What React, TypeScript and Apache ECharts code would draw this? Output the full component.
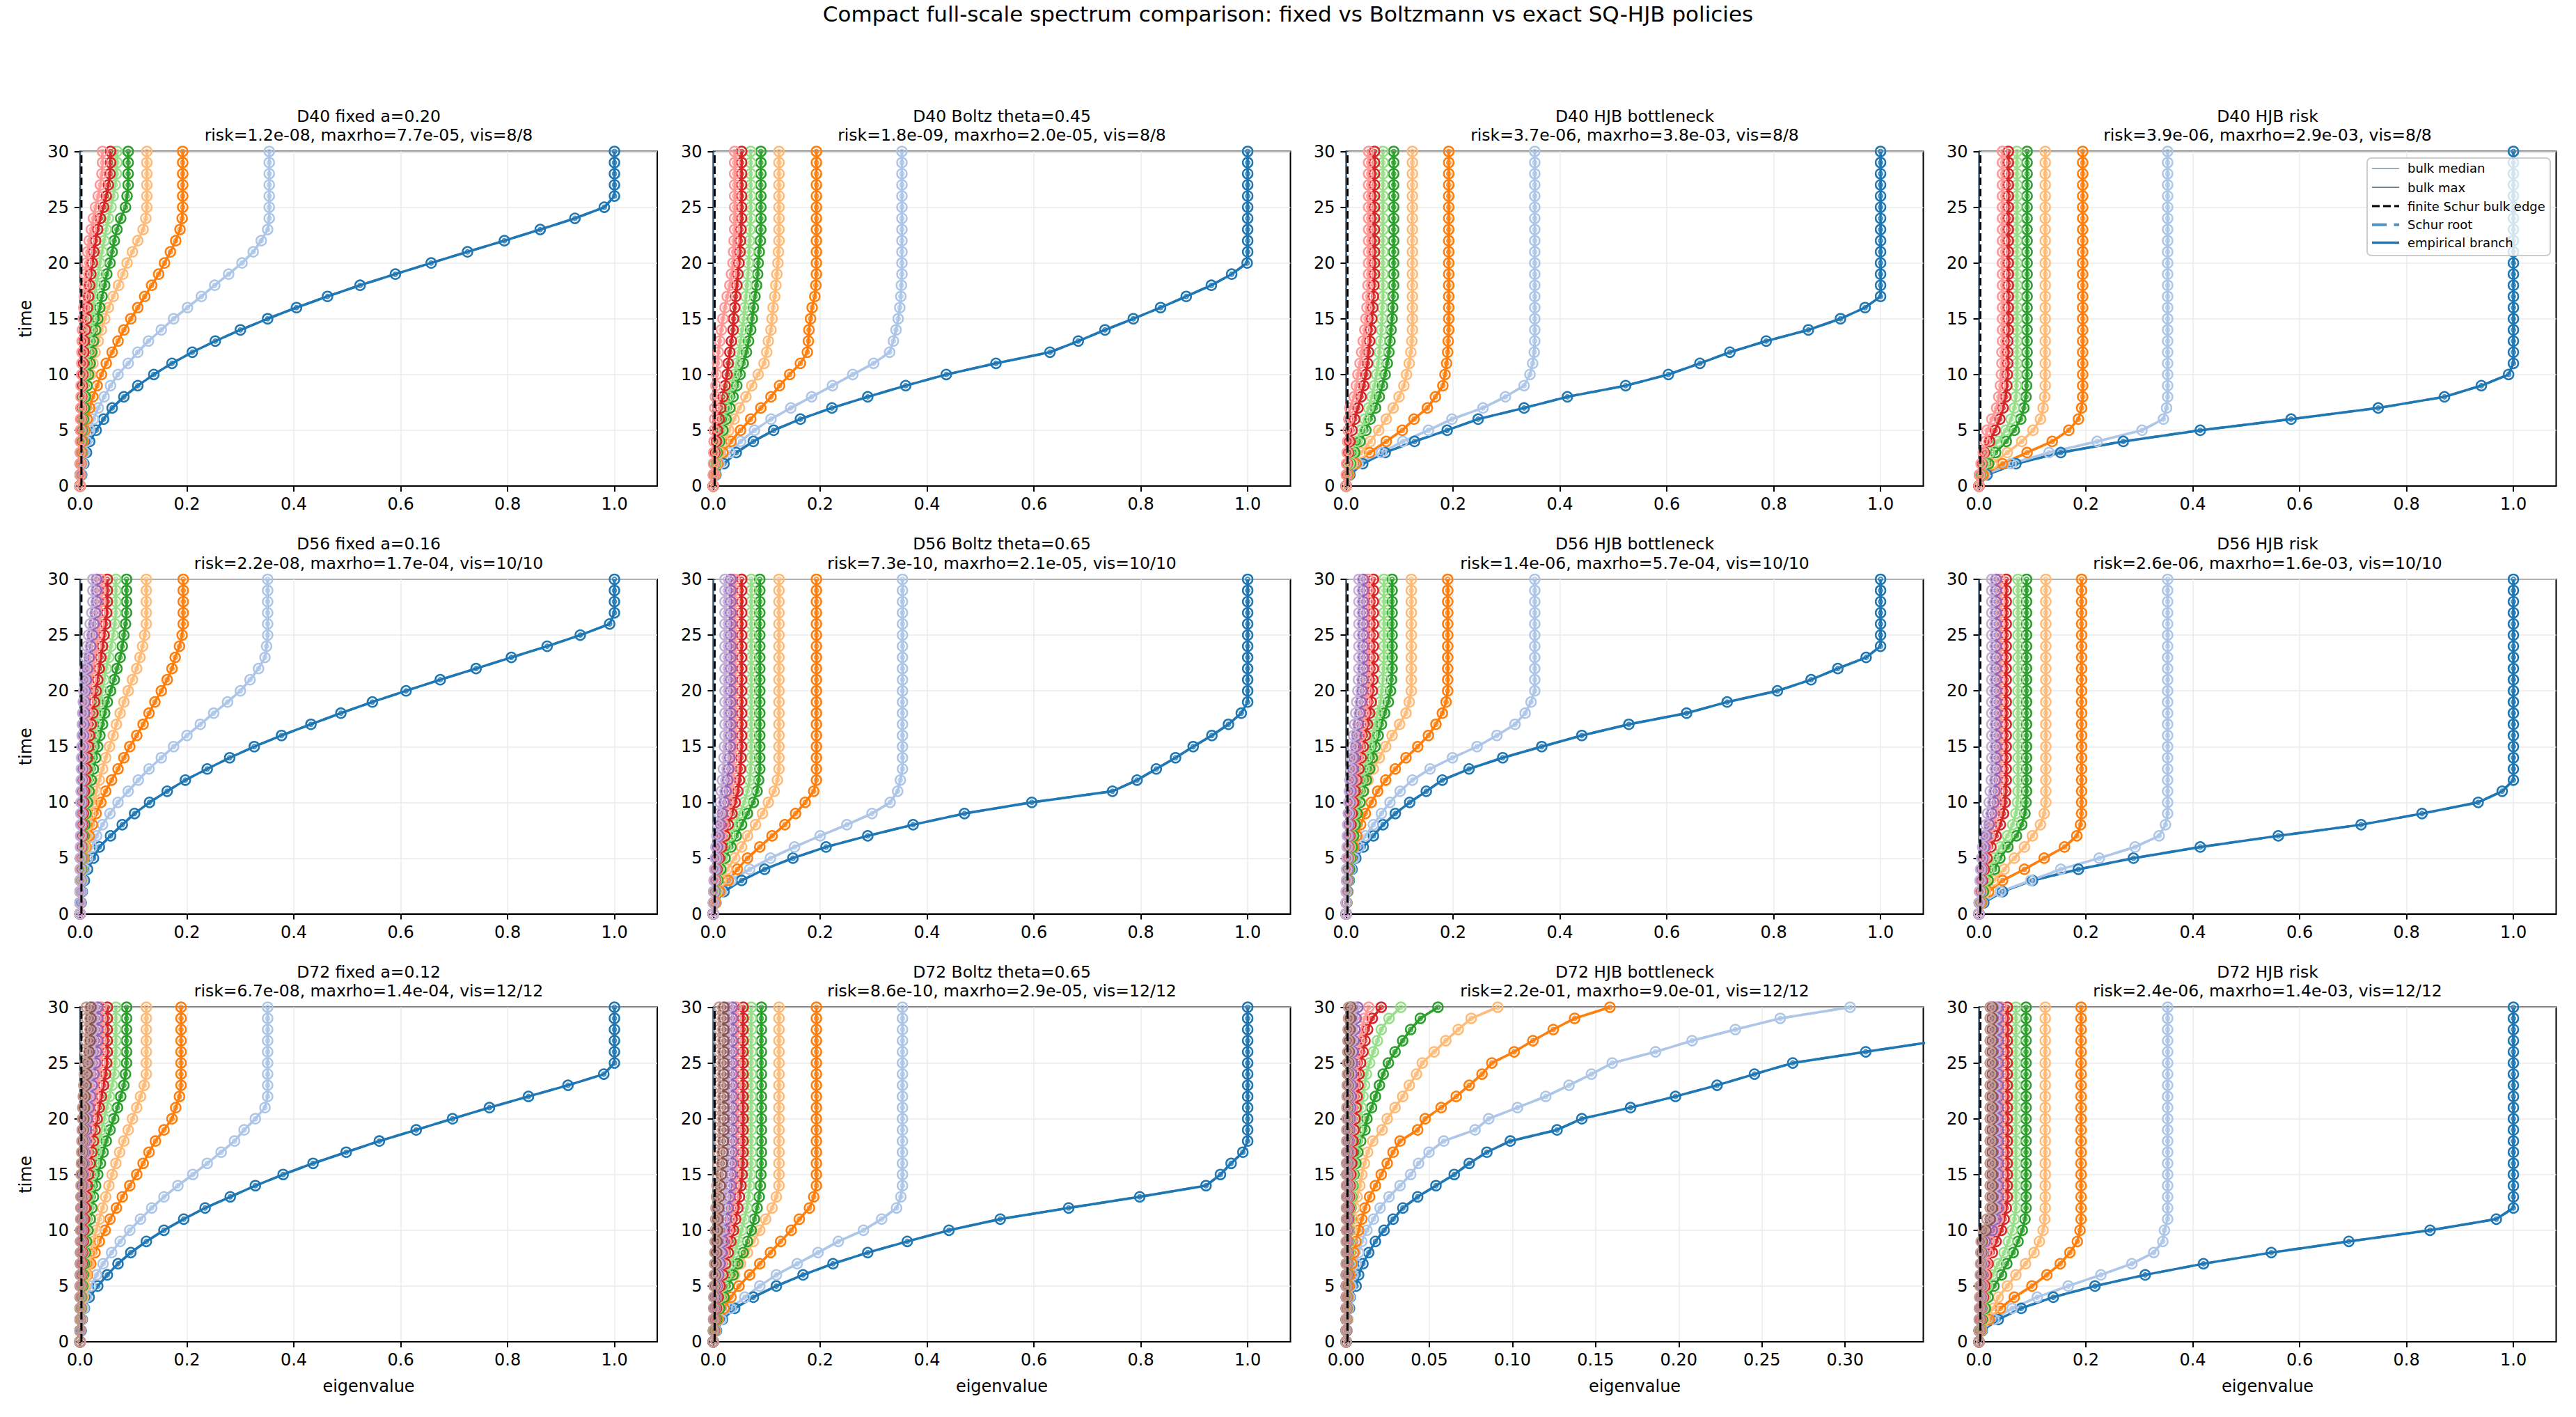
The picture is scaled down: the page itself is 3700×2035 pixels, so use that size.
import React, { useEffect, useRef } from "react";
import * as echarts from "echarts";

const FONT = "'DejaVu Sans', sans-serif";
const TIMES = [0,1,2,3,4,5,6,7,8,9,10, 11,12,13,14,15,16,17,18,19,20, 21,22,23,24,25,26,27,28,29,30];
const COLORS = ["#1f77b4","#aec7e8","#ff7f0e","#ffbb78","#2ca02c","#98df8a","#d62728","#ff9896","#9467bd","#c5b0d5","#8c564b","#c49c94"];
const MAIN_TITLE = "Compact full-scale spectrum comparison: fixed vs Boltzmann vs exact SQ-HJB policies";
const TITLES = ["D40 fixed a=0.20","D40 Boltz theta=0.45","D40 HJB bottleneck","D40 HJB risk","D56 fixed a=0.16","D56 Boltz theta=0.65","D56 HJB bottleneck","D56 HJB risk","D72 fixed a=0.12","D72 Boltz theta=0.65","D72 HJB bottleneck","D72 HJB risk"];
const SUBTITLES = ["risk=1.2e-08, maxrho=7.7e-05, vis=8/8","risk=1.8e-09, maxrho=2.0e-05, vis=8/8","risk=3.7e-06, maxrho=3.8e-03, vis=8/8","risk=3.9e-06, maxrho=2.9e-03, vis=8/8","risk=2.2e-08, maxrho=1.7e-04, vis=10/10","risk=7.3e-10, maxrho=2.1e-05, vis=10/10","risk=1.4e-06, maxrho=5.7e-04, vis=10/10","risk=2.6e-06, maxrho=1.6e-03, vis=10/10","risk=6.7e-08, maxrho=1.4e-04, vis=12/12","risk=8.6e-10, maxrho=2.9e-05, vis=12/12","risk=2.2e-01, maxrho=9.0e-01, vis=12/12","risk=2.4e-06, maxrho=1.4e-03, vis=12/12"];
const X_MAX = [1.08,1.08,1.08,1.08, 1.08,1.08,1.08,1.08, 1.08,1.08,0.347,1.08];
const X_TICKS_WIDE = [0,0.2,0.4,0.6,0.8,1.0];
const X_TICKS_NARROW = [0,0.05,0.1,0.15,0.2,0.25,0.3];
const Y_TICKS = [0,5,10,15,20,25,30];
const BULK_MEDIAN = [.0003,.0003,.0003,.0003, .0003,.0003,.0003,.0003, .0003,.0003,.0002,.0003];
const BULK_MAX = [.0008,.0008,.0008,.0008, .0008,.0008,.0008,.0008, .0008,.0008,.0004,.0008];
const BULK_EDGE = [.0025,.0025,.0025,.0025, .0025,.0025,.0025,.0025, .0025,.0025,.0008,.0025];
const LEGEND_LABELS = ["bulk median","bulk max","finite Schur bulk edge","Schur root","empirical branch"];

const D40_FIXED = [
[0,.003,.007,.012,.018,.03,.044,.06,.082,.108,.138,  .172,.21,.253,.3,.351,.405,.463,.524,.59,.657,  .725,.794,.861,.926,.981,1,1,1,1,1],
[0,.002,.005,.008,.012,.018,.025,.034,.045,.057,.071,  .09,.108,.128,.152,.175,.201,.227,.252,.278,.303,  .324,.339,.351,.354,.354,.354,.354,.354,.354,.354],
[0,.001,.002,.004,.006,.009,.013,.018,.024,.032,.04,  .049,.06,.071,.082,.095,.108,.121,.134,.147,.158,  .169,.179,.187,.191,.192,.192,.192,.192,.192,.192],
[0,.0005,.001,.002,.003,.004,.006,.008,.011,.014,.02,  .024,.028,.034,.04,.046,.053,.062,.072,.08,.088,  .098,.108,.118,.123,.125,.125,.125,.125,.125,.125],
[0,.0005,.001,.002,.003,.004,.006,.008,.01,.013,.016,  .019,.022,.025,.029,.033,.037,.041,.046,.05,.056,  .06,.064,.069,.076,.085,.088,.09,.09,.09,.09],
[0,.0004,.0008,.0012,.0018,.0025,.0035,.0045,.006,.007,.009,  .011,.013,.016,.019,.022,.024,.027,.03,.034,.037,  .041,.045,.049,.053,.058,.062,.066,.068,.069,.069],
[0,.0003,.0006,.001,.0013,.0016,.002,.0025,.003,.004,.005,  .006,.007,.008,.01,.012,.014,.016,.018,.02,.023,  .026,.029,.033,.038,.044,.049,.053,.056,.057,.057],
[0,.0002,.0004,.0006,.0008,.001,.0012,.0015,.0018,.002,.003,  .0033,.0036,.004,.0045,.006,.007,.008,.009,.01,.012,  .014,.017,.021,.025,.029,.034,.038,.041,.042,.042],
];
const D40_BOLTZ = [
[0,.005,.02,.043,.075,.113,.163,.222,.289,.36,.436,  .529,.63,.683,.733,.786,.837,.885,.932,.97,.999,  1,1,1,1,1,1,1,1,1,1],
[0,.004,.012,.031,.051,.077,.108,.145,.184,.223,.261,  .3,.33,.337,.342,.346,.349,.351,.352,.353,.353,  .353,.353,.353,.353,.353,.353,.353,.353,.353,.353],
[0,.003,.008,.018,.033,.051,.07,.089,.108,.124,.143,  .163,.176,.178,.179,.182,.185,.19,.192,.193,.193,  .193,.193,.193,.193,.193,.193,.193,.193,.193,.193],
[0,.002,.006,.012,.02,.029,.039,.049,.061,.072,.084,  .095,.1,.103,.108,.11,.112,.115,.117,.119,.121,  .122,.123,.123,.123,.123,.123,.123,.123,.123,.123],
[0,.001,.004,.007,.012,.018,.024,.031,.037,.044,.05,  .056,.062,.066,.07,.073,.075,.078,.081,.083,.084,  .086,.088,.089,.089,.089,.089,.089,.089,.089,.089],
[0,.001,.003,.005,.009,.013,.018,.023,.028,.034,.04,  .044,.048,.051,.054,.057,.059,.061,.063,.065,.066,  .067,.068,.069,.07,.07,.07,.07,.07,.07,.07],
[0,.0005,.001,.003,.006,.008,.011,.014,.018,.022,.026,  .028,.031,.034,.037,.038,.04,.042,.044,.046,.048,  .05,.051,.052,.053,.053,.053,.053,.053,.053,.053],
[0,.0003,.0006,.001,.0015,.002,.0025,.003,.004,.005,.006,  .008,.0095,.012,.015,.018,.022,.026,.031,.034,.037,  .038,.039,.04,.04,.04,.04,.04,.04,.04,.04],
];
const D40_HJB_BOTTLENECK = [
[0,.007,.031,.073,.128,.189,.247,.333,.414,.523,.603,  .662,.718,.786,.865,.925,.971,1,1,1,1,  1,1,1,1,1,1,1,1,1,1],
[0,.005,.022,.066,.106,.154,.198,.256,.298,.333,.344,  .349,.352,.353,.353,.353,.353,.353,.353,.353,.353,  .353,.353,.353,.353,.353,.353,.353,.353,.353,.353],
[0,.005,.018,.044,.075,.105,.127,.152,.167,.181,.185,  .188,.19,.191,.192,.192,.192,.192,.192,.192,.192,  .192,.192,.192,.192,.192,.192,.192,.192,.192,.192],
[0,.003,.012,.028,.045,.061,.075,.088,.099,.108,.113,  .118,.121,.123,.124,.124,.124,.124,.124,.124,.124,  .124,.124,.124,.124,.124,.124,.124,.124,.124,.124],
[0,.002,.008,.016,.026,.037,.045,.055,.062,.068,.073,  .077,.08,.082,.084,.086,.087,.088,.089,.089,.089,  .089,.089,.089,.089,.089,.089,.089,.089,.089,.089],
[0,.0015,.006,.012,.02,.028,.035,.042,.048,.053,.057,  .06,.062,.064,.066,.067,.068,.069,.069,.069,.069,  .069,.069,.069,.069,.069,.069,.069,.069,.069,.069],
[0,.001,.002,.004,.007,.011,.016,.022,.028,.033,.037,  .04,.042,.044,.046,.048,.05,.051,.052,.053,.053,  .053,.053,.053,.053,.053,.053,.053,.053,.053,.053],
[0,.0005,.001,.002,.003,.004,.005,.007,.015,.019,.022,  .026,.029,.032,.035,.037,.039,.04,.041,.042,.042,  .042,.042,.042,.042,.042,.042,.042,.042,.042,.042],
];
const D40_HJB_RISK = [
[0,.015,.069,.153,.27,.414,.584,.747,.871,.94,.991,  1,1,1,1,1,1,1,1,1,1,  1,1,1,1,1,1,1,1,1,1],
[0,.01,.06,.131,.221,.305,.345,.351,.353,.353,.353,  .353,.353,.353,.353,.353,.353,.353,.353,.353,.353,  .353,.353,.353,.353,.353,.353,.353,.353,.353,.353],
[0,.008,.044,.09,.137,.168,.186,.192,.194,.194,.194,  .194,.194,.194,.194,.194,.194,.194,.194,.194,.194,  .194,.194,.194,.194,.194,.194,.194,.194,.194,.194],
[0,.004,.025,.053,.08,.101,.115,.12,.123,.124,.124,  .124,.124,.124,.124,.124,.124,.124,.124,.124,.124,  .124,.124,.124,.124,.124,.124,.124,.124,.124,.124],
[0,.003,.018,.031,.051,.066,.078,.084,.088,.089,.09,  .09,.09,.09,.09,.09,.09,.09,.09,.09,.09,  .09,.09,.09,.09,.09,.09,.09,.09,.09,.09],
[0,.002,.01,.02,.035,.05,.06,.066,.069,.07,.071,  .071,.071,.071,.071,.071,.071,.071,.071,.071,.071,  .071,.071,.071,.071,.071,.071,.071,.071,.071,.071],
[0,.001,.005,.01,.02,.03,.039,.045,.05,.052,.053,  .054,.054,.054,.055,.055,.055,.055,.055,.055,.055,  .055,.055,.055,.055,.055,.055,.055,.055,.055,.055],
[0,.001,.004,.008,.012,.015,.024,.033,.037,.04,.042,  .043,.043,.044,.044,.044,.044,.044,.044,.044,.044,  .044,.044,.044,.044,.044,.044,.044,.044,.044,.044],
];
const D56_FIXED = [
[0,.002,.004,.008,.014,.025,.036,.057,.079,.102,.13,  .163,.197,.238,.28,.326,.377,.432,.488,.547,.61,  .674,.741,.807,.874,.936,.991,1,1,1,1],
[0,.001,.003,.005,.009,.014,.022,.031,.042,.056,.071,  .09,.109,.129,.152,.175,.2,.225,.25,.276,.3,  .318,.334,.346,.349,.351,.351,.351,.351,.351,.351],
[0,.0005,.001,.002,.004,.007,.011,.017,.023,.03,.039,  .048,.059,.071,.082,.093,.106,.118,.129,.14,.152,  .163,.172,.178,.186,.191,.193,.193,.193,.193,.193],
[0,.0005,.001,.002,.004,.005,.009,.012,.016,.02,.025,  .03,.036,.042,.048,.055,.062,.068,.075,.082,.09,  .098,.106,.112,.117,.121,.124,.124,.124,.124,.124],
[0,.0003,.0008,.0015,.003,.004,.005,.007,.009,.011,.014,  .017,.021,.025,.029,.033,.037,.042,.046,.051,.057,  .064,.069,.075,.079,.082,.085,.087,.087,.087,.087],
[0,.0003,.0006,.001,.002,.003,.004,.005,.006,.008,.01,  .012,.014,.017,.02,.023,.026,.029,.033,.037,.041,  .045,.049,.054,.058,.062,.065,.067,.067,.067,.067],
[0,.0002,.0005,.001,.0015,.002,.003,.004,.005,.006,.007,  .008,.01,.012,.014,.016,.018,.021,.024,.027,.03,  .033,.036,.039,.042,.045,.048,.05,.051,.051,.051],
[0,.0002,.0004,.0007,.001,.0015,.002,.0025,.003,.0035,.004,  .005,.006,.007,.008,.009,.01,.012,.014,.016,.018,  .021,.024,.027,.03,.033,.036,.038,.039,.039,.039],
[0,.0001,.0003,.0005,.0008,.001,.0013,.0016,.002,.0025,.003,  .0035,.004,.0045,.005,.0055,.006,.007,.008,.009,.01,  .012,.014,.017,.02,.023,.026,.029,.031,.031,.031],
[0,.0001,.0002,.0003,.0005,.0007,.0009,.0011,.0013,.0015,.0018,  .002,.0023,.0026,.003,.0035,.004,.0045,.005,.006,.007,  .008,.009,.011,.013,.016,.019,.022,.024,.024,.024],
];
const D56_BOLTZ = [
[0,.005,.02,.053,.096,.149,.211,.289,.374,.47,.596,  .747,.793,.829,.865,.898,.933,.964,.988,1,1,  1,1,1,1,1,1,1,1,1,1],
[0,.005,.015,.033,.068,.107,.152,.2,.25,.297,.331,  .345,.35,.354,.354,.354,.354,.354,.354,.354,.354,  .354,.354,.354,.354,.354,.354,.354,.354,.354,.354],
[0,.004,.012,.028,.045,.064,.087,.11,.134,.154,.172,  .188,.193,.193,.193,.193,.193,.193,.193,.193,.193,  .193,.193,.193,.193,.193,.193,.193,.193,.193,.193],
[0,.002,.007,.015,.026,.04,.053,.064,.079,.092,.103,  .114,.12,.123,.123,.123,.123,.123,.123,.123,.123,  .123,.123,.123,.123,.123,.123,.123,.123,.123,.123],
[0,.001,.004,.008,.014,.022,.033,.043,.053,.064,.075,  .082,.085,.087,.087,.087,.087,.087,.087,.087,.087,  .087,.087,.087,.087,.087,.087,.087,.087,.087,.087],
[0,.001,.003,.006,.01,.016,.024,.032,.04,.049,.058,  .064,.068,.07,.071,.071,.071,.071,.071,.071,.071,  .071,.071,.071,.071,.071,.071,.071,.071,.071,.071],
[0,.0008,.002,.004,.007,.011,.016,.022,.028,.035,.041,  .046,.049,.051,.052,.053,.053,.053,.053,.053,.053,  .053,.053,.053,.053,.053,.053,.053,.053,.053,.053],
[0,.0005,.0015,.003,.005,.008,.011,.015,.019,.024,.029,  .033,.036,.038,.039,.04,.04,.04,.04,.04,.04,  .04,.04,.04,.04,.04,.04,.04,.04,.04,.04],
[0,.0004,.001,.002,.004,.006,.008,.011,.014,.017,.021,  .024,.027,.029,.031,.032,.033,.033,.033,.033,.033,  .033,.033,.033,.033,.033,.033,.033,.033,.033,.033],
[0,.0003,.0008,.0015,.0025,.004,.005,.007,.009,.011,.013,  .015,.017,.019,.02,.021,.022,.022,.022,.022,.022,  .022,.022,.022,.022,.022,.022,.022,.022,.022,.022],
];
const D56_HJB_BOTTLENECK = [
[0,.001,.003,.006,.011,.018,.032,.051,.069,.092,.119,  .15,.18,.23,.293,.366,.441,.529,.637,.713,.807,  .87,.92,.973,1,1,1,1,1,1,1],
[0,.001,.002,.005,.009,.015,.024,.036,.051,.066,.082,  .101,.124,.157,.199,.245,.282,.316,.335,.346,.353,  .353,.353,.353,.353,.353,.353,.353,.353,.353,.353],
[0,.001,.002,.003,.006,.009,.014,.02,.027,.036,.047,  .059,.074,.092,.112,.134,.154,.168,.18,.187,.19,  .19,.19,.19,.19,.19,.19,.19,.19,.19,.19],
[0,.0005,.001,.002,.004,.006,.009,.013,.017,.021,.027,  .033,.041,.051,.062,.074,.086,.1,.112,.118,.122,  .122,.122,.122,.122,.122,.122,.122,.122,.122,.122],
[0,.001,.002,.004,.006,.008,.011,.014,.017,.021,.026,  .032,.038,.044,.049,.054,.06,.066,.072,.079,.083,  .085,.086,.086,.086,.086,.086,.086,.086,.086,.086],
[0,.0008,.0015,.003,.004,.006,.008,.01,.013,.016,.02,  .024,.029,.034,.039,.044,.049,.054,.059,.064,.067,  .069,.07,.071,.071,.071,.071,.071,.071,.071,.071],
[0,.0005,.001,.002,.003,.004,.005,.007,.009,.011,.014,  .017,.02,.024,.028,.032,.036,.04,.044,.047,.049,  .05,.051,.051,.051,.051,.051,.051,.051,.051,.051],
[0,.0004,.0008,.0015,.002,.003,.004,.005,.006,.008,.01,  .012,.015,.018,.021,.024,.027,.03,.034,.037,.039,  .04,.041,.041,.041,.041,.041,.041,.041,.041,.041],
[0,.0003,.0006,.001,.0015,.002,.003,.004,.005,.006,.007,  .009,.011,.013,.015,.018,.02,.023,.026,.028,.03,  .031,.032,.032,.032,.032,.032,.032,.032,.032,.032],
[0,.0002,.0004,.0007,.001,.0015,.002,.0025,.003,.004,.005,  .006,.007,.009,.01,.012,.014,.016,.018,.02,.022,  .023,.024,.024,.024,.024,.024,.024,.024,.024,.024],
];
const D56_HJB_RISK = [
[0,.009,.044,.1,.186,.289,.414,.56,.715,.829,.934,  .979,1,1,1,1,1,1,1,1,1,  1,1,1,1,1,1,1,1,1,1],
[0,.006,.04,.097,.153,.225,.292,.337,.349,.353,.353,  .353,.353,.353,.353,.353,.353,.353,.353,.353,.353,  .353,.353,.353,.353,.353,.353,.353,.353,.353,.353],
[0,.005,.018,.044,.085,.122,.16,.183,.19,.192,.192,  .192,.192,.192,.192,.192,.192,.192,.192,.192,.192,  .192,.192,.192,.192,.192,.192,.192,.192,.192,.192],
[0,.003,.012,.027,.047,.066,.085,.1,.115,.122,.125,  .125,.125,.125,.125,.125,.125,.125,.125,.125,.125,  .125,.125,.125,.125,.125,.125,.125,.125,.125,.125],
[0,.002,.008,.017,.029,.039,.054,.07,.08,.086,.088,  .089,.089,.089,.089,.089,.089,.089,.089,.089,.089,  .089,.089,.089,.089,.089,.089,.089,.089,.089,.089],
[0,.001,.005,.011,.019,.028,.04,.053,.063,.069,.072,  .073,.073,.073,.073,.073,.073,.073,.073,.073,.073,  .073,.073,.073,.073,.073,.073,.073,.073,.073,.073],
[0,.001,.003,.006,.01,.015,.022,.032,.04,.046,.049,  .05,.051,.051,.051,.051,.051,.051,.051,.051,.051,  .051,.051,.051,.051,.051,.051,.051,.051,.051,.051],
[0,.0008,.002,.004,.007,.01,.014,.02,.027,.032,.036,  .038,.039,.039,.039,.039,.039,.039,.039,.039,.039,  .039,.039,.039,.039,.039,.039,.039,.039,.039,.039],
[0,.0005,.0015,.003,.005,.007,.01,.014,.019,.024,.028,  .03,.031,.032,.032,.032,.032,.032,.032,.032,.032,  .032,.032,.032,.032,.032,.032,.032,.032,.032,.032],
[0,.0004,.001,.002,.003,.005,.007,.01,.013,.016,.019,  .021,.023,.024,.024,.024,.024,.024,.024,.024,.024,  .024,.024,.024,.024,.024,.024,.024,.024,.024,.024],
];
const D72_FIXED = [
[0,.002,.004,.008,.017,.033,.051,.071,.095,.124,.157,  .194,.234,.281,.328,.38,.436,.498,.56,.629,.697,  .766,.839,.913,.98,1,1,1,1,1,1],
[0,.001,.003,.007,.012,.02,.031,.043,.059,.075,.093,  .113,.134,.157,.183,.211,.238,.264,.289,.307,.328,  .346,.351,.351,.351,.351,.351,.351,.351,.351,.351],
[0,.0005,.001,.003,.005,.009,.014,.02,.028,.036,.047,  .056,.068,.079,.093,.106,.118,.129,.141,.157,.172,  .179,.186,.189,.189,.189,.189,.189,.189,.189,.189],
[0,.0005,.002,.003,.006,.009,.012,.016,.02,.025,.03,  .036,.042,.048,.054,.06,.067,.074,.082,.09,.098,  .106,.113,.12,.124,.124,.124,.124,.124,.124,.124],
[0,.0003,.001,.002,.003,.005,.006,.008,.01,.012,.015,  .019,.022,.025,.029,.033,.038,.043,.049,.056,.063,  .07,.076,.082,.085,.087,.087,.087,.087,.087,.087],
[0,.0003,.0007,.0012,.002,.003,.004,.005,.007,.008,.01,  .012,.015,.017,.02,.023,.027,.031,.035,.04,.045,  .05,.055,.06,.064,.066,.067,.067,.067,.067,.067],
[0,.0002,.0005,.001,.0015,.002,.003,.004,.005,.006,.007,  .008,.01,.012,.014,.016,.019,.022,.025,.028,.032,  .036,.04,.044,.048,.05,.051,.051,.051,.051,.051],
[0,.0002,.0004,.0007,.001,.0015,.002,.0025,.003,.0035,.004,  .005,.006,.007,.008,.009,.011,.013,.015,.018,.021,  .024,.028,.032,.035,.038,.04,.04,.04,.04,.04],
[0,.0001,.0003,.0005,.0008,.001,.0013,.0016,.002,.0025,.003,  .0035,.004,.0045,.005,.006,.007,.008,.01,.012,.014,  .017,.02,.023,.026,.029,.031,.033,.033,.033,.033],
[0,.0001,.0002,.0004,.0006,.0008,.001,.0012,.0015,.0018,.002,  .0025,.003,.0035,.004,.0045,.005,.006,.007,.008,.01,  .012,.014,.016,.018,.02,.022,.024,.025,.025,.025],
[0,.0001,.0002,.0003,.0004,.0005,.0007,.0009,.0011,.0013,.0015,  .0018,.002,.0025,.003,.0035,.004,.0045,.005,.006,.007,  .008,.009,.011,.013,.015,.017,.019,.02,.02,.02],
[0,.0001,.0001,.0002,.0003,.0004,.0005,.0006,.0007,.0008,.001,  .0012,.0014,.0016,.0018,.002,.0025,.003,.0035,.004,.0045,  .005,.006,.007,.008,.009,.01,.011,.012,.012,.012],
];
const D72_BOLTZ = [
[0,.006,.017,.04,.075,.118,.168,.224,.289,.363,.441,  .537,.665,.798,.922,.949,.969,.991,1,1,1,  1,1,1,1,1,1,1,1,1,1],
[0,.005,.015,.033,.059,.087,.118,.157,.196,.234,.281,  .315,.343,.351,.354,.354,.354,.354,.354,.354,.354,  .354,.354,.354,.354,.354,.354,.354,.354,.354,.354],
[0,.003,.009,.02,.033,.048,.068,.087,.107,.126,.146,  .161,.18,.188,.193,.193,.193,.193,.193,.193,.193,  .193,.193,.193,.193,.193,.193,.193,.193,.193,.193],
[0,.002,.005,.01,.018,.028,.04,.051,.064,.075,.087,  .098,.11,.118,.123,.123,.123,.123,.123,.123,.123,  .123,.123,.123,.123,.123,.123,.123,.123,.123,.123],
[0,.002,.006,.012,.02,.028,.037,.046,.056,.064,.071,  .077,.082,.086,.088,.089,.09,.09,.09,.09,.09,  .09,.09,.09,.09,.09,.09,.09,.09,.09,.09],
[0,.001,.004,.008,.013,.019,.026,.033,.04,.047,.053,  .058,.063,.066,.068,.07,.071,.071,.071,.071,.071,  .071,.071,.071,.071,.071,.071,.071,.071,.071,.071],
[0,.001,.003,.006,.009,.013,.018,.023,.028,.033,.038,  .042,.046,.049,.052,.054,.055,.056,.056,.056,.056,  .056,.056,.056,.056,.056,.056,.056,.056,.056,.056],
[0,.0008,.002,.004,.006,.009,.012,.016,.02,.024,.028,  .032,.035,.038,.04,.041,.042,.043,.043,.043,.043,  .043,.043,.043,.043,.043,.043,.043,.043,.043,.043],
[0,.0006,.0015,.003,.005,.007,.01,.013,.016,.019,.022,  .025,.028,.031,.033,.034,.035,.036,.036,.036,.036,  .036,.036,.036,.036,.036,.036,.036,.036,.036,.036],
[0,.0005,.001,.002,.003,.005,.007,.009,.011,.013,.015,  .017,.019,.021,.023,.025,.026,.027,.028,.028,.028,  .028,.028,.028,.028,.028,.028,.028,.028,.028,.028],
[0,.0004,.0008,.0015,.002,.003,.004,.005,.006,.007,.008,  .009,.01,.011,.013,.015,.017,.018,.019,.02,.02,  .02,.02,.02,.02,.02,.02,.02,.02,.02,.02],
[0,.0002,.0005,.0008,.001,.0015,.002,.0025,.003,.0035,.004,  .0045,.005,.006,.007,.008,.009,.01,.011,.011,.011,  .011,.011,.011,.011,.011,.011,.011,.011,.011,.011],
];
const D72_HJB_BOTTLENECK = [
[0,.0005,.001,.002,.0024,.006,.0075,.0101,.0136,.0176,.0228,  .0282,.0341,.043,.054,.065,.074,.0846,.0987,.1268,.1417,  .171,.198,.223,.2455,.2685,.3124,.357,.4,.445,.49],
[0,.0005,.001,.0015,.002,.003,.0042,.0059,.0075,.0094,.0125,  .0164,.0204,.0258,.0324,.0388,.0435,.0498,.0587,.0775,.0857,  .103,.12,.134,.1475,.16,.186,.208,.234,.261,.303],
[0,.0003,.0005,.0008,.0012,.0018,.0023,.0035,.0047,.0059,.0075,  .0094,.0113,.0141,.0176,.0211,.0247,.0282,.0324,.043,.0475,  .0571,.0662,.074,.0817,.0876,.101,.1123,.1245,.1374,.1586],
[0,.0002,.0004,.0006,.0008,.0009,.001,.0014,.0018,.0023,.0033,  .0042,.0052,.0066,.0082,.0094,.011,.0129,.016,.0216,.0247,  .0294,.034,.038,.0423,.0458,.0529,.0599,.0674,.0752,.0911],
[0,.0001,.0002,.0004,.0006,.0008,.001,.0012,.0014,.0016,.0019,  .0023,.0028,.0033,.004,.0047,.0059,.007,.0087,.0113,.0125,  .0153,.0176,.02,.0223,.0254,.0294,.034,.0388,.0446,.0552],
[0,.0001,.0002,.0003,.0004,.0005,.0007,.0009,.0011,.0014,.0018,  .0021,.0025,.003,.0035,.0041,.0047,.0056,.0066,.0074,.0082,  .0091,.0101,.0111,.0122,.0141,.0164,.0188,.0211,.0258,.0329],
[0,.0001,.0002,.0003,.0004,.0005,.0006,.0007,.0008,.001,.0012,  .0015,.0018,.002,.0023,.0028,.0033,.0037,.0042,.0048,.0054,  .006,.0066,.0072,.0078,.0087,.0101,.0113,.0129,.0157,.0211],
[0,.0001,.0001,.0002,.0003,.0004,.0005,.0006,.0007,.0008,.0009,  .001,.0012,.0014,.0016,.0018,.002,.0023,.0026,.003,.0033,  .0037,.0042,.0048,.0054,.006,.007,.0082,.0094,.011,.0136],
[0,.0001,.0001,.0001,.0002,.0002,.0003,.0003,.0004,.0005,.0006,  .0007,.0008,.0009,.001,.0011,.0013,.0015,.0017,.002,.0023,  .0026,.0029,.0032,.0035,.0038,.0042,.0047,.0053,.006,.007],
[0,0,.0001,.0001,.0001,.0002,.0002,.0002,.0003,.0003,.0004,  .0004,.0005,.0006,.0007,.0008,.0009,.001,.0011,.0013,.0015,  .0017,.0019,.0021,.0023,.0026,.0029,.0033,.0037,.0042,.0047],
[0,0,0,.0001,.0001,.0001,.0001,.0002,.0002,.0002,.0003,  .0003,.0003,.0004,.0004,.0005,.0005,.0006,.0007,.0008,.0009,  .001,.0011,.0012,.0014,.0016,.0018,.002,.0022,.0025,.0028],
[0,0,0,0,.0001,.0001,.0001,.0001,.0001,.0001,.0002,  .0002,.0002,.0002,.0002,.0003,.0003,.0003,.0004,.0004,.0005,  .0005,.0006,.0007,.0008,.0009,.001,.0011,.0012,.0014,.0016],
];
const D72_HJB_RISK = [
[0,.006,.036,.079,.139,.217,.311,.42,.547,.692,.844,  .968,1,1,1,1,1,1,1,1,1,  1,1,1,1,1,1,1,1,1,1],
[0,.005,.028,.062,.109,.167,.228,.286,.327,.344,.347,  .353,.353,.353,.353,.353,.353,.353,.353,.353,.353,  .353,.353,.353,.353,.353,.353,.353,.353,.353,.353],
[0,.004,.019,.04,.066,.099,.127,.152,.17,.184,.189,  .191,.191,.191,.191,.191,.191,.191,.191,.191,.191,  .191,.191,.191,.191,.191,.191,.191,.191,.191,.191],
[0,.003,.01,.027,.036,.053,.069,.087,.103,.113,.12,  .123,.124,.124,.124,.124,.124,.124,.124,.124,.124,  .124,.124,.124,.124,.124,.124,.124,.124,.124,.124],
[0,.002,.006,.012,.017,.028,.042,.052,.064,.073,.081,  .086,.088,.088,.088,.088,.088,.088,.088,.088,.088,  .088,.088,.088,.088,.088,.088,.088,.088,.088,.088],
[0,.001,.004,.008,.012,.016,.025,.036,.047,.055,.062,  .066,.069,.069,.069,.069,.069,.069,.069,.069,.069,  .069,.069,.069,.069,.069,.069,.069,.069,.069,.069],
[0,.001,.003,.005,.008,.011,.014,.017,.025,.032,.042,  .047,.051,.053,.053,.053,.053,.053,.053,.053,.053,  .053,.053,.053,.053,.053,.053,.053,.053,.053,.053],
[0,.0008,.002,.004,.006,.008,.011,.014,.017,.02,.028,  .036,.04,.042,.042,.042,.042,.042,.042,.042,.042,  .042,.042,.042,.042,.042,.042,.042,.042,.042,.042],
[0,.0005,.0015,.003,.004,.005,.006,.007,.008,.012,.025,  .032,.036,.036,.036,.036,.036,.036,.036,.036,.036,  .036,.036,.036,.036,.036,.036,.036,.036,.036,.036],
[0,.0004,.001,.002,.003,.004,.005,.006,.007,.008,.012,  .025,.03,.03,.03,.03,.03,.03,.03,.03,.03,  .03,.03,.03,.03,.03,.03,.03,.03,.03,.03],
[0,.0003,.0008,.0015,.002,.003,.004,.004,.005,.006,.013,  .021,.025,.025,.025,.025,.025,.025,.025,.025,.025,  .025,.025,.025,.025,.025,.025,.025,.025,.025,.025],
[0,.0002,.0005,.001,.0015,.002,.0025,.003,.0035,.004,.008,  .015,.021,.021,.021,.021,.021,.021,.021,.021,.021,  .021,.021,.021,.021,.021,.021,.021,.021,.021,.021],
];

const PANELS = [D40_FIXED, D40_BOLTZ, D40_HJB_BOTTLENECK, D40_HJB_RISK, D56_FIXED, D56_BOLTZ, D56_HJB_BOTTLENECK, D56_HJB_RISK, D72_FIXED, D72_BOLTZ, D72_HJB_BOTTLENECK, D72_HJB_RISK];

const GRID_LEFT = [115, 1024.5, 1933.5, 2842.5];
const GRID_TOP = [217.5, 832, 1446.5];
const GRID_W = 829;
const GRID_H = 480.5;

function hexAlpha(hex: string, a: number) {
  const n = parseInt(hex.slice(1), 16);
  return `rgba(${(n >> 16) & 255},${(n >> 8) & 255},${n & 255},${a})`;
}

function buildOption() {
  const grids: any[] = [];
  const xAxes: any[] = [];
  const yAxes: any[] = [];
  const series: any[] = [];
  const elements: any[] = [];

  elements.push({ type: "text", x: 1850, y: 20, z: 100, style: { text: MAIN_TITLE, font: `31px ${FONT}`, fill: "#000", textAlign: "center", textVerticalAlign: "middle" } });

  PANELS.forEach((branches, p) => {
    const r = Math.floor(p / 4);
    const c = p % 4;
    const narrow = X_MAX[p] < 0.5;
    const ticks = narrow ? X_TICKS_NARROW : X_TICKS_WIDE;
    const dec = narrow ? 2 : 1;
    grids.push({ left: GRID_LEFT[c], top: GRID_TOP[r], width: GRID_W, height: GRID_H, show: true, borderColor: "#000", borderWidth: 2, backgroundColor: "rgba(0,0,0,0)" });
    xAxes.push({
      gridIndex: p, type: "value", min: 0, max: X_MAX[p], interval: narrow ? 0.05 : 0.2,
      axisLine: { show: true, onZero: false, lineStyle: { color: "#000", width: 2 } },
      axisTick: { show: true, length: 8, lineStyle: { color: "#000", width: 2 }, customValues: ticks },
      axisLabel: { show: true, customValues: ticks, formatter: (v: number) => v.toFixed(dec), fontSize: 24, color: "#000", fontFamily: FONT, margin: 14 },
      splitLine: { show: true, lineStyle: { color: "#ebebeb", width: 1.5 } },
      name: r === 2 ? "eigenvalue" : "", nameLocation: "middle", nameGap: 52,
      nameTextStyle: { fontSize: 24, color: "#000", fontFamily: FONT },
    });
    yAxes.push({
      gridIndex: p, type: "value", min: 0, max: 30, interval: 5,
      axisLine: { show: true, onZero: false, lineStyle: { color: "#000", width: 2 } },
      axisTick: { show: true, length: 8, lineStyle: { color: "#000", width: 2 }, customValues: Y_TICKS },
      axisLabel: { show: true, customValues: Y_TICKS, fontSize: 24, color: "#000", fontFamily: FONT, margin: 16 },
      splitLine: { show: true, lineStyle: { color: "#ebebeb", width: 1.5 } },
      name: c === 0 ? "time" : "", nameLocation: "middle", nameGap: 66, nameRotate: 90,
      nameTextStyle: { fontSize: 24, color: "#000", fontFamily: FONT },
    });

    const cx = GRID_LEFT[c] + GRID_W / 2;
    elements.push({ type: "text", x: cx, y: GRID_TOP[r] - 51, z: 100, style: { text: TITLES[p], font: `23.5px ${FONT}`, fill: "#000", textAlign: "center", textVerticalAlign: "middle" } });
    elements.push({ type: "text", x: cx, y: GRID_TOP[r] - 23.5, z: 100, style: { text: SUBTITLES[p], font: `23.5px ${FONT}`, fill: "#000", textAlign: "center", textVerticalAlign: "middle" } });

    series.push({ type: "line", xAxisIndex: p, yAxisIndex: p, data: TIMES.map((t) => [BULK_MEDIAN[p], t]), showSymbol: false, symbol: "none", lineStyle: { color: "#6a9cc0", width: 1.5 }, silent: true, clip: true, z: 1 });
    series.push({ type: "line", xAxisIndex: p, yAxisIndex: p, data: TIMES.map((t) => [BULK_MAX[p], t]), showSymbol: false, symbol: "none", lineStyle: { color: "#3d5d76", width: 1.5 }, silent: true, clip: true, z: 1 });

    branches.forEach((vals, b) => {
      const col = COLORS[b];
      const pts = vals.map((v, i) => [v, TIMES[i]]);
      // empirical branch
      series.push({
        type: "line", xAxisIndex: p, yAxisIndex: p, data: pts,
        symbol: "circle", symbolSize: 14, showSymbol: true, showAllSymbol: true,
        lineStyle: { color: col, width: 3.5 },
        itemStyle: { color: "rgba(0,0,0,0)", borderColor: col, borderWidth: 2.5 },
        emphasis: { disabled: true }, silent: true, clip: true, z: 2,
      });
      // Schur root (dashed, with small hollow markers)
      series.push({
        type: "line", xAxisIndex: p, yAxisIndex: p, data: pts,
        symbol: "circle", symbolSize: 6, showSymbol: true, showAllSymbol: true,
        lineStyle: { color: hexAlpha(col, 0.8), width: 3.5, type: [21, 10.5] },
        itemStyle: { color: "rgba(0,0,0,0)", borderColor: hexAlpha(col, 0.8), borderWidth: 2 },
        emphasis: { disabled: true }, silent: true, clip: true, z: 2,
      });
    });

    series.push({ type: "line", xAxisIndex: p, yAxisIndex: p, data: TIMES.map((t) => [BULK_EDGE[p], t]), showSymbol: false, symbol: "none", lineStyle: { color: "#000", width: 3, type: [11, 5] }, silent: true, clip: true, z: 3 });
  });

  // legend (inside D40 HJB risk panel)
  const lx = 3400, ly = 227;
  elements.push({ type: "rect", z: 50, shape: { x: lx, y: ly, width: 263, height: 140, r: 6 }, style: { fill: "rgba(255,255,255,0.8)", stroke: "#cccccc", lineWidth: 2 } });
  const rowsY = [241.7, 269, 296, 322.7, 348.5];
  const legendStyles = [
    { stroke: "#6a9cc0", lineWidth: 1.5 },
    { stroke: "#3d5d76", lineWidth: 1.5 },
    { stroke: "#000", lineWidth: 3, lineDash: [11, 5] },
    { stroke: "#4c92c3", lineWidth: 4, lineDash: [21, 10.5] },
    { stroke: "#1f77b4", lineWidth: 3.5 },
  ];
  LEGEND_LABELS.forEach((lab, i) => {
    elements.push({ type: "line", z: 51, shape: { x1: lx + 7, y1: rowsY[i], x2: lx + 46, y2: rowsY[i] }, style: legendStyles[i] });
    elements.push({ type: "text", z: 51, x: lx + 58, y: rowsY[i], style: { text: lab, font: `18px ${FONT}`, fill: "#000", textAlign: "left", textVerticalAlign: "middle" } });
  });

  return {
    animation: false,
    backgroundColor: "#ffffff",
    grid: grids,
    xAxis: xAxes,
    yAxis: yAxes,
    series,
    graphic: { elements },
  };
}

export default function App() {
  const ref = useRef<HTMLDivElement>(null);
  useEffect(() => {
    if (!ref.current) return;
    const chart = echarts.init(ref.current, null, { renderer: "svg" });
    chart.setOption(buildOption() as any);
    return () => chart.dispose();
  }, []);
  return <div ref={ref} style={{ position: "fixed", left: 0, top: 0, width: 3700, height: 2035, background: "#fff" }} />;
}
